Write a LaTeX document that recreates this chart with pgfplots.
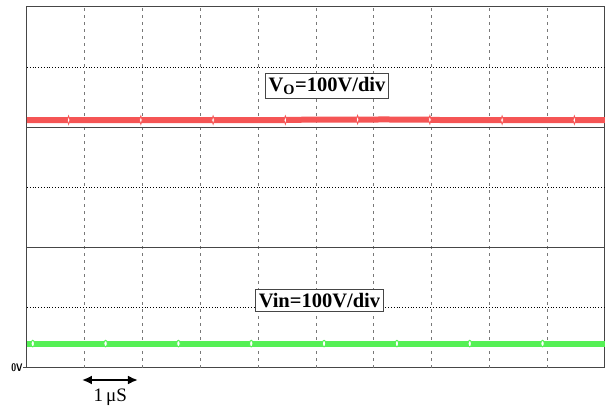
\documentclass[border=0pt]{standalone}
\usepackage{pgfplots}
\pgfplotsset{compat=1.18}
\usepackage{fontspec}
\setmainfont{Liberation Serif}
\usetikzlibrary{arrows.meta}
\definecolor{tracered}{RGB}{245,85,85}
\definecolor{tracegreen}{RGB}{85,240,85}
\definecolor{framegray}{RGB}{70,70,70}
\definecolor{gridgray}{RGB}{120,120,120}
\begin{document}
\begin{tikzpicture}
\begin{axis}[
  scale only axis,
  width=578pt, height=361pt,
  xmin=0, xmax=10, ymin=0, ymax=6,
  xtick=\empty, ytick=\empty,
  axis line style={draw=framegray, line width=1pt},
  clip=false,
]
% bounding box
\path (axis cs:-0.467,-0.731) rectangle (axis cs:10.052,6.116);
% grid
\foreach \x in {1,...,9} {
  \edef\tmp{\noexpand\draw[gridgray, dashed, dash pattern=on 3pt off 4pt, line width=0.7pt] (axis cs:\x,0) -- (axis cs:\x,6);}
  \tmp
}
\foreach \y in {1,3,5} {
  \edef\tmp{\noexpand\draw[black, dotted, line width=0.8pt] (axis cs:0,\y) -- (axis cs:10,\y);}
  \tmp
}
\foreach \y in {2,4} {
  \edef\tmp{\noexpand\draw[framegray, line width=1pt] (axis cs:0,\y) -- (axis cs:10,\y);}
  \tmp
}
% traces
\addplot[tracered, line width=6pt, line cap=butt] coordinates {
 (0,4.12) (1,4.12) (2,4.12) (3,4.12) (4.4,4.12) (4.6,4.125) (5.4,4.128) (6.2,4.13) (6.9,4.127) (7.2,4.12) (8.5,4.12) (9.5,4.12) (10,4.12)};
\addplot[tracegreen, line width=6pt, line cap=butt] coordinates {
 (0,0.405) (2,0.405) (4,0.405) (6,0.405) (8,0.405) (10,0.405)};
\addplot[only marks, mark=diamond*, mark size=3pt, mark options={fill=white, draw=tracered, line width=0.8pt, yscale=1.4, xscale=0.6}] coordinates {
 (0.72,4.12) (1.97,4.12) (3.22,4.12) (4.47,4.12) (5.72,4.128) (6.97,4.126) (8.22,4.12) (9.47,4.12)};
\addplot[only marks, mark=*, mark size=2.5pt, mark options={fill=white, draw=tracegreen, line width=1pt, yscale=1.3, xscale=0.7}] coordinates {
 (0.1,0.405) (1.36,0.405) (2.62,0.405) (3.88,0.405) (5.14,0.405) (6.40,0.405) (7.66,0.405) (8.92,0.405)};
% labels
\node[draw=framegray, line width=1pt, fill=white, inner sep=3.5pt, font=\fontsize{20.5}{21}\selectfont\bfseries] at (axis cs:5.19,4.69) {V\textsubscript{O}=100V/div};
\node[draw=framegray, line width=1pt, fill=white, inner sep=3.5pt, font=\fontsize{20.5}{21}\selectfont\bfseries] at (axis cs:5.06,1.12) {Vin=100V/div};
\node[font=\fontsize{11}{11}\selectfont\bfseries\sffamily, anchor=east, inner sep=1pt, xscale=0.8] at (axis cs:-0.06,0) {0V};
\draw[framegray, line width=1pt] (axis cs:-0.07,0) -- (axis cs:0,0);
\draw[black, line width=2.2pt, {Latex[length=10pt,width=9pt]}-{Latex[length=10pt,width=9pt]}] (axis cs:0.95,-0.2) -- (axis cs:1.92,-0.2);
\node[font=\fontsize{19}{19}\selectfont] at (axis cs:1.44,-0.48) {1\,μS};
\end{axis}
\end{tikzpicture}
\end{document}
